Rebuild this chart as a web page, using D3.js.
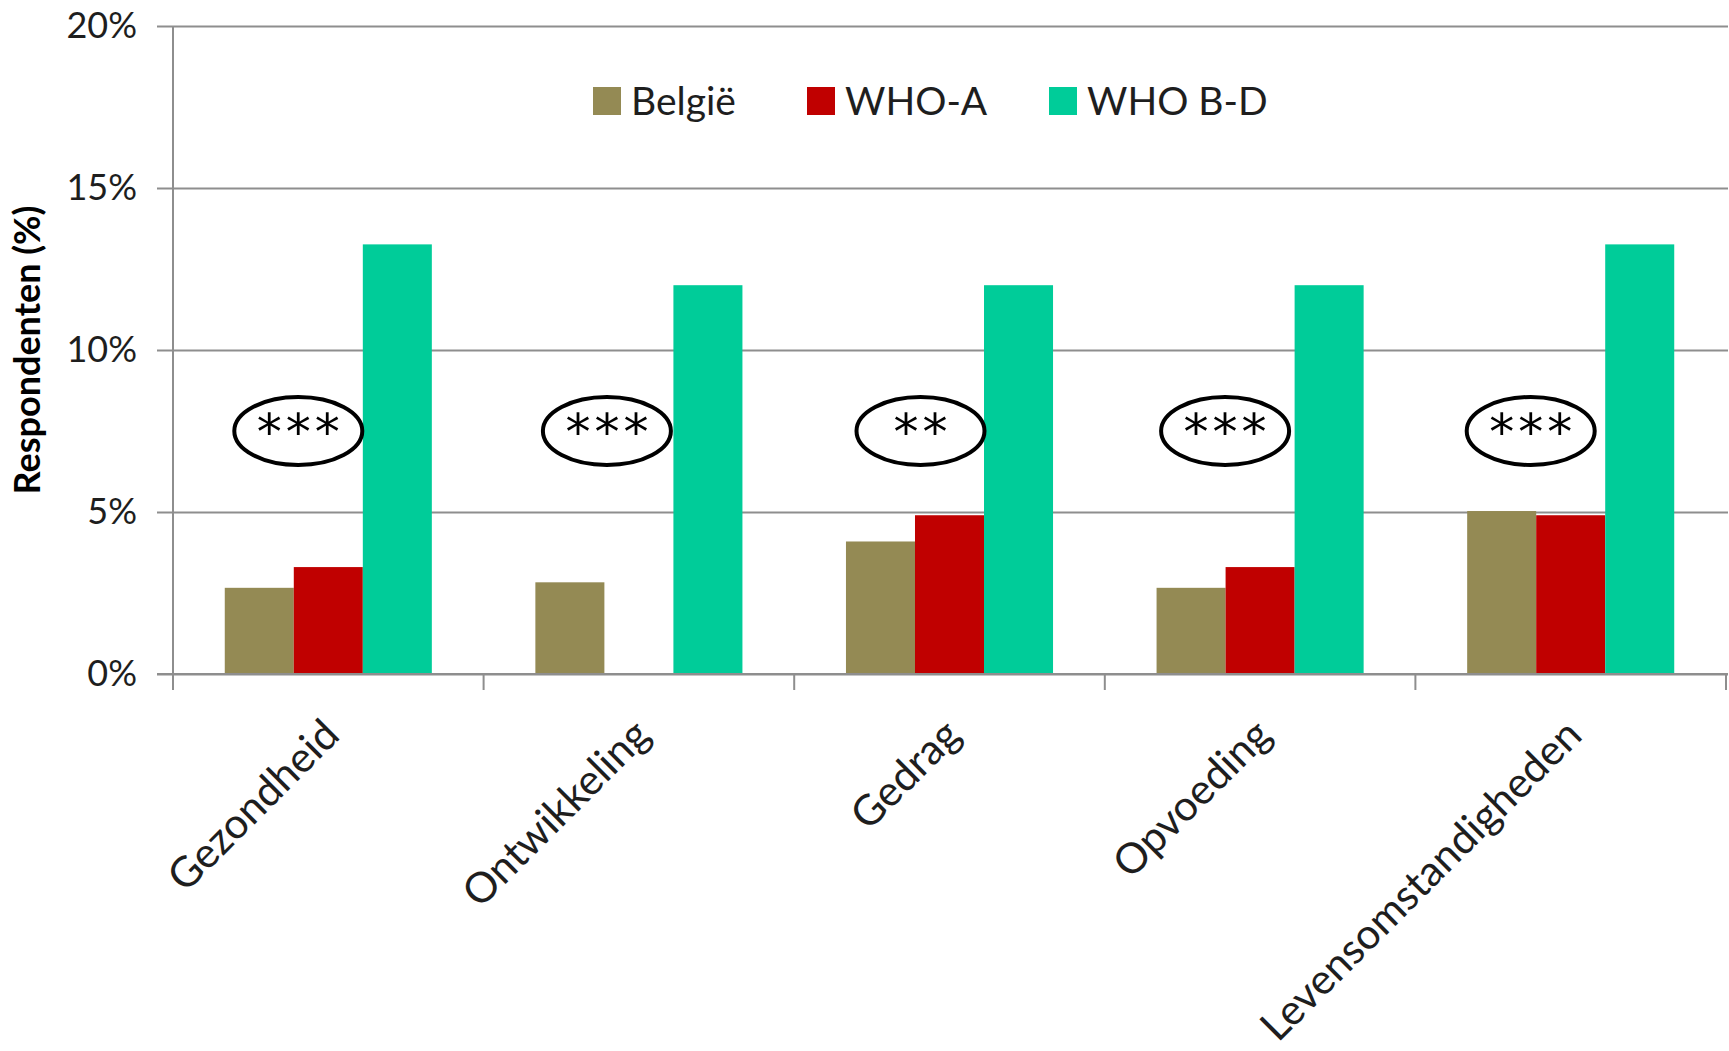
<!DOCTYPE html>
<html>
<head>
<meta charset="utf-8">
<script src="https://cdn.jsdelivr.net/npm/d3@7"></script>
<style>
  html, body { margin: 0; padding: 0; background: #fff; }
  svg { display: block; }
</style>
</head>
<body>
<script>
// ---- data ----
const categories = ["Gezondheid", "Ontwikkeling", "Gedrag", "Opvoeding", "Levensomstandigheden"];
const seriesNames = ["België", "WHO-A", "WHO B-D"];
const belgie = [2.66, 2.83, 4.09, 2.66, 5.03];
const whoA   = [3.30, 0,    4.90, 3.30, 4.90];
const whoBD  = [13.26, 12.0, 12.0, 12.0, 13.26];
const significance = ["***", "***", "**", "***", "***"];
const yTicks = [0, 5, 10, 15, 20];

// ---- layout / style ----
const W = 1729, H = 1051;
const plot = { left: 173, right: 1726, top: 26, bottom: 674 };
const colors = ["#948A54", "#C00000", "#00CC99"];
const gridColor = "#8E8E8E";
const textColor = "#1E1E1E";
const font = "Lato, 'Open Sans', sans-serif";
const annotLevel = 7.5;                       // value at which ellipses sit
const annotOffsets = [-30, -32, -29, -35, -40]; // horizontal shift of ellipses from category centre

const seriesValues = [belgie, whoA, whoBD];

const svg = d3.select("body").append("svg").attr("width", W).attr("height", H);

const x0 = d3.scaleBand().domain(categories).range([plot.left, plot.right]).paddingInner(0).paddingOuter(0);
const x1 = d3.scaleBand().domain(seriesNames).range([0, x0.bandwidth()]).paddingInner(0).paddingOuter(0.75);
const y = d3.scaleLinear().domain([0, 20]).range([plot.bottom, plot.top]);

// gridlines (horizontal) with left tick marks
const yAxis = d3.axisLeft(y).tickValues(yTicks).tickSize(-(W - 1 - plot.left)).tickFormat(d => d + "%").tickPadding(36);
const gy = svg.append("g").attr("transform", `translate(${plot.left},0)`).call(yAxis);
gy.select(".domain").remove();
gy.selectAll(".tick line").attr("stroke", gridColor).attr("stroke-width", 2).attr("x1", -16);
gy.selectAll(".tick text").attr("fill", textColor).style("font-family", font).style("font-size", "36px");

// bars
const groups = svg.append("g").selectAll("g").data(categories).join("g")
  .attr("transform", d => `translate(${x0(d)},0)`);
groups.selectAll("rect")
  .data((c, i) => seriesNames.map((s, k) => ({ s, k, v: seriesValues[k][i] })))
  .join("rect")
  .attr("x", d => x1(d.s))
  .attr("width", x1.bandwidth())
  .attr("y", d => y(d.v))
  .attr("height", d => y(0) - y(d.v))
  .attr("fill", d => colors[d.k]);

// x axis line & ticks at category boundaries
const xAxisG = svg.append("g");
xAxisG.append("line").attr("x1", plot.left - 16).attr("x2", W - 1).attr("y1", y(0)).attr("y2", y(0))
  .attr("stroke", gridColor).attr("stroke-width", 2);
const boundaries = categories.map(c => x0(c)).concat([x0(categories[categories.length - 1]) + x0.bandwidth()]);
xAxisG.selectAll("line.tk").data(boundaries).join("line").attr("class", "tk")
  .attr("x1", d => d).attr("x2", d => d).attr("y1", y(0)).attr("y2", y(0) + 16)
  .attr("stroke", gridColor).attr("stroke-width", 2);
// y axis line
svg.append("line").attr("x1", plot.left).attr("x2", plot.left).attr("y1", y(20)).attr("y2", y(0) + 16)
  .attr("stroke", gridColor).attr("stroke-width", 2);

// category labels rotated
svg.append("g").selectAll("text").data(categories).join("text")
  .attr("transform", d => `translate(${x0(d) + x0.bandwidth() / 2 + 2},${y(0) + 52}) rotate(-45)`)
  .attr("text-anchor", "end")
  .attr("dominant-baseline", "central")
  .attr("fill", textColor)
  .style("font-family", font).style("font-size", "42px")
  .text(d => d);

// y axis title
svg.append("text")
  .attr("transform", `translate(40,350) rotate(-90)`)
  .attr("text-anchor", "middle")
  .attr("fill", "#000")
  .style("font-family", font).style("font-size", "36px").style("font-weight", "bold")
  .text("Respondenten (%)");

// significance annotations
const ann = svg.append("g").selectAll("g").data(categories).join("g")
  .attr("transform", (d, i) => `translate(${x0(d) + x0.bandwidth() / 2 + annotOffsets[i]},${y(annotLevel)})`);
ann.append("ellipse").attr("rx", 64).attr("ry", 34).attr("fill", "#fff").attr("stroke", "#000").attr("stroke-width", 4);
ann.append("text").attr("text-anchor", "middle").attr("y", 18).attr("dx", 2)
  .style("font-family", "'DejaVu Sans', sans-serif").style("font-size", "50px")
  .style("letter-spacing", "4px").attr("fill", "#000")
  .text((d, i) => significance[i]);

// legend
const legendX = [593, 807, 1049];
const lg = svg.append("g").selectAll("g").data(seriesNames).join("g")
  .attr("transform", (d, i) => `translate(${legendX[i]},87)`);
lg.append("rect").attr("width", 28).attr("height", 28).attr("fill", (d, i) => colors[i]);
lg.append("text").attr("x", 38).attr("y", 28)
  .attr("fill", textColor)
  .style("font-family", font).style("font-size", "39px")
  .text(d => d);
</script>
</body>
</html>
